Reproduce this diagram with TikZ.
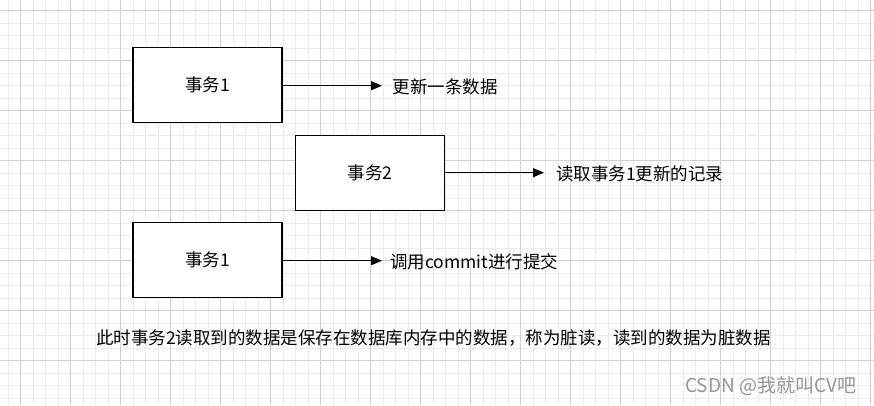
\documentclass[tikz,border=0pt]{standalone}
\usepackage{fontspec}
\setmainfont{Noto Sans CJK SC}
\usetikzlibrary{arrows.meta}
\definecolor{minorgrid}{RGB}{236,236,236}
\definecolor{majorgrid}{RGB}{210,210,210}
\definecolor{wmgray}{RGB}{150,150,150}
\tikzset{
  tbox/.style={draw=black, line width=1.3pt, fill=white, minimum width=149pt, minimum height=75pt, inner sep=0pt, font=\fontsize{17.5}{20}\selectfont},
  lbl/.style={anchor=west, inner sep=0pt, font=\fontsize{17.5}{20}\selectfont},
  arr/.style={-{Triangle[length=11pt,width=9pt]}, line width=1.1pt},
}
\begin{document}
\begin{tikzpicture}[x=1pt,y=-1pt]
\useasboundingbox (0,0) rectangle (874,405);
\fill[white] (0,0) rectangle (874,405);
% grid
\foreach \i in {0,...,70} {
  \draw[minorgrid, line width=0.6pt] ({20.3-12.5+12.5*\i},0) -- ({20.3-12.5+12.5*\i},405);
}
\foreach \i in {0,...,33} {
  \draw[minorgrid, line width=0.6pt] (0,{10.3+12.5*\i}) -- (874,{10.3+12.5*\i});
}
\foreach \i in {0,...,17} {
  \draw[majorgrid, line width=0.7pt] ({20.3+50*\i},0) -- ({20.3+50*\i},405);
}
\foreach \i in {0,...,8} {
  \draw[majorgrid, line width=0.7pt] (0,{10.3+50*\i}) -- (874,{10.3+50*\i});
}
% boxes
\node[tbox] (b1) at (207.5,85.3) {事务1};
\node[tbox] (b2) at (370,172.7) {事务2};
\node[tbox] (b3) at (207.5,260.3) {事务1};
% labels
\node[lbl] (l1) at (392.5,87) {更新一条数据};
\node[lbl] (l2) at (556,174) {读取事务1更新的记录};
\node[lbl] (l3) at (390,262) {调用commit进行提交};
\coordinate (t1) at (382,85.7);
\coordinate (t2) at (544,172.7);
\coordinate (t3) at (382,260.7);
\draw[arr] (b1.east |- t1) -- (t1);
\draw[arr] (b2.east |- t2) -- (t2);
\draw[arr] (b3.east |- t3) -- (t3);
% bottom text
\node[lbl] (note) at (96,338) {此时事务2读取到的数据是保存在数据库内存中的数据，称为脏读，读到的数据为脏数据};
\node[lbl, text=wmgray, font=\fontsize{19}{22}\selectfont] (wm) at (685,386) {CSDN @我就叫CV吧};
\end{tikzpicture}
\end{document}
